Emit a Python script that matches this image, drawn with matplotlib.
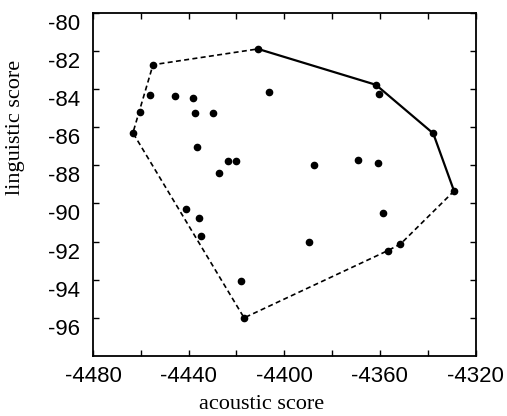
import numpy as np
import matplotlib.pyplot as plt
import matplotlib.transforms as mtransforms
from matplotlib.ticker import MultipleLocator

plt.rcParams['axes.unicode_minus'] = False

# scatter points (acoustic score, linguistic score)
acoustic = [-4411.0, -4454.9, -4456.3, -4460.5, -4463.3, -4445.8, -4438.2, -4437.4,
            -4430.0, -4436.5, -4423.5, -4420.0, -4427.5, -4406.5, -4361.7, -4360.5,
            -4337.7, -4329.0, -4387.5, -4369.1, -4360.9, -4440.9, -4435.8, -4434.9,
            -4418.3, -4416.8, -4358.7, -4389.6, -4356.8, -4351.4]
linguistic = [-81.9, -82.73, -84.3, -85.2, -86.3, -84.39, -84.49, -85.24,
              -85.24, -87.05, -87.78, -87.78, -88.42, -84.16, -83.78, -84.26,
              -86.33, -89.35, -88.0, -87.73, -87.87, -90.27, -90.74, -91.73,
              -94.06, -96.0, -90.51, -92.04, -92.48, -92.13]

# hull: solid (upper right) part and dashed part
solid_x = [-4411.0, -4361.7, -4337.7, -4329.0]
solid_y = [-81.9, -83.78, -86.33, -89.35]
dashed_x = [-4329.0, -4351.4, -4356.8, -4416.8, -4463.3, -4454.9, -4411.0]
dashed_y = [-89.35, -92.13, -92.48, -96.0, -86.3, -82.73, -81.9]

yticks = [-96, -94, -92, -90, -88, -86, -84, -82, -80]

fig = plt.figure(figsize=(5.07, 4.16), dpi=100)
ax = fig.add_axes([0.1834, 0.1442, 0.7546, 0.8253])

ax.plot(solid_x, solid_y, color='black', lw=1.6)
ax.plot(dashed_x, dashed_y, color='black', lw=1.2, ls=(0, (3, 2)))
ax.plot(acoustic, linguistic, 'o', color='black', ms=4.5)

ax.set_xlim(-4480, -4320)
ax.set_ylim(-98, -80)
ax.xaxis.set_major_locator(MultipleLocator(40))
ax.xaxis.set_minor_locator(MultipleLocator(20))
ax.set_yticks(yticks)
ax.tick_params(which='both', direction='in', top=True, right=True,
               labelsize=16, width=1, length=4)
ax.tick_params(axis='y', pad=9)
ax.tick_params(axis='x', pad=7)
# y tick labels sit a little below their ticks in the original
offset = mtransforms.ScaledTranslation(0, -0.09, fig.dpi_scale_trans)
for lab in ax.get_yticklabels():
    lab.set_transform(lab.get_transform() + offset)
for lab in ax.get_xticklabels() + ax.get_yticklabels():
    lab.set_family('Liberation Sans')
for s in ax.spines.values():
    s.set_linewidth(1.3)

ax.set_xlabel('acoustic score', family='Liberation Serif', fontsize=16)
ax.set_ylabel('linguistic score', family='Liberation Serif', fontsize=16)
# labels are off-centre in the original
ax.xaxis.set_label_coords(0.44, -0.113)
ax.yaxis.set_label_coords(-0.178, 0.665)

fig.savefig('out.png', dpi=100)
